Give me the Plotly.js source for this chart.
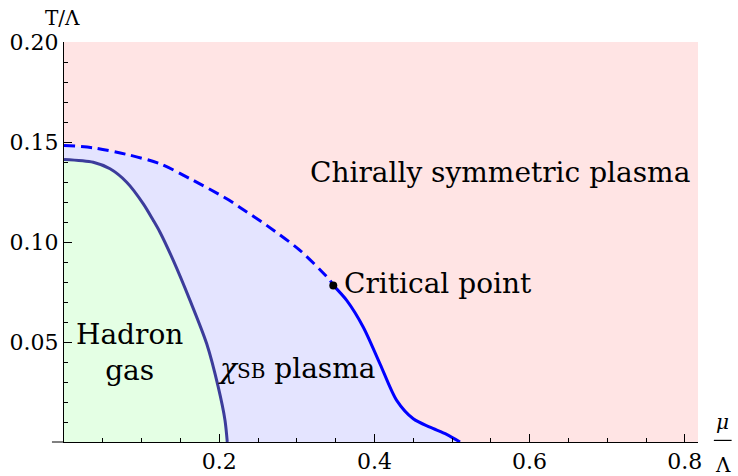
<!DOCTYPE html>
<html>
<head>
<meta charset="utf-8">
<script src="https://cdn.plot.ly/plotly-3.0.1.min.js"></script>
<style>html,body{margin:0;padding:0;background:#fff;}#chart{width:738px;height:476px;}</style>
</head>
<body>
<div id="chart"></div>
<script>
// Crossover (dashed) line from mu=0 to the critical point
const dashedMu = [0, 0.0377, 0.0808, 0.1237, 0.1666, 0.2097, 0.2268, 0.2612, 0.3041, 0.3428, 0.347];
const dashedT  = [0.1483, 0.1471, 0.1438, 0.1391, 0.1308, 0.1216, 0.1173, 0.1083, 0.0958, 0.0808, 0.0783];
// First-order line from critical point down to T=0
const firstMu = [0.347, 0.3643, 0.3857, 0.4072, 0.4287, 0.4501, 0.4716, 0.4931, 0.5103];
const firstT  = [0.0783, 0.0708, 0.0574, 0.0391, 0.0208, 0.0116, 0.0074, 0.0038, 0];
// Hadron gas boundary (dark curve)
const hadronMu = [0, 0.0377, 0.0593, 0.0808, 0.1022, 0.1151, 0.1237, 0.1408, 0.1624, 0.1839, 0.1988, 0.2075, 0.2104];
const hadronT  = [0.1413, 0.1399, 0.1366, 0.1299, 0.1191, 0.1108, 0.1049, 0.0908, 0.0708, 0.0491, 0.0274, 0.0108, 0];
// Critical point
const critMu = [0.347];
const critT  = [0.0783];
// Tick labels
const xTickVals = [0.2, 0.4, 0.6, 0.8];
const xTickText = ["0.2", "0.4", "0.6", "0.8"];
const yTickVals = [0.05, 0.10, 0.15, 0.20];
const yTickText = ["0.05", "0.10", "0.15", "0.20"];

const outerMu = dashedMu.concat(firstMu.slice(1));
const outerT  = dashedT.concat(firstT.slice(1));

const serif = "DejaVu Serif";

const traces = [
  {x: outerMu, y: outerT, mode: 'lines', fill: 'tozeroy', fillcolor: 'rgb(228,228,255)',
   line: {width: 0, shape: 'spline', smoothing: 0.8}, hoverinfo: 'skip', showlegend: false},
  {x: hadronMu, y: hadronT, mode: 'lines', fill: 'tozeroy', fillcolor: 'rgb(228,255,228)',
   line: {width: 0, shape: 'spline', smoothing: 0.8}, hoverinfo: 'skip', showlegend: false},
  {x: dashedMu, y: dashedT, mode: 'lines',
   line: {color: '#0000ff', width: 3, dash: '11px,6px', shape: 'spline', smoothing: 0.8}, showlegend: false},
  {x: firstMu, y: firstT, mode: 'lines',
   line: {color: '#0000ff', width: 3, shape: 'spline', smoothing: 0.8}, showlegend: false},
  {x: hadronMu, y: hadronT, mode: 'lines',
   line: {color: 'rgb(60,60,155)', width: 3, shape: 'spline', smoothing: 0.8}, showlegend: false},
  {x: critMu, y: critT, mode: 'markers', marker: {color: '#000', size: 8}, showlegend: false}
];

const layout = {
  width: 738, height: 476,
  margin: {l: 64, r: 40, t: 42, b: 34},
  paper_bgcolor: '#ffffff',
  plot_bgcolor: 'rgb(255,228,228)',
  font: {family: serif, size: 22, color: '#000'},
  xaxis: {
    range: [0, 0.817], showgrid: false, zeroline: false,
    showline: true, linecolor: '#000', linewidth: 1,
    ticks: 'inside', ticklen: 8, tickcolor: '#000', tickwidth: 1,
    tickmode: 'array', tickvals: xTickVals, ticktext: xTickText,
    tickfont: {family: serif, size: 22, color: '#000'}, ticklabelstandoff: 0,
    minor: {ticks: 'inside', ticklen: 4, tickcolor: '#000', tickwidth: 1, dtick: 0.05, tick0: 0, showgrid: false}
  },
  yaxis: {
    range: [0, 0.2], showgrid: false, zeroline: false,
    showline: true, linecolor: '#000', linewidth: 1,
    ticks: 'inside', ticklen: 8, tickcolor: '#000', tickwidth: 1,
    tickmode: 'array', tickvals: yTickVals, ticktext: yTickText,
    tickfont: {family: serif, size: 22, color: '#000'},
    minor: {ticks: 'inside', ticklen: 4, tickcolor: '#000', tickwidth: 1, dtick: 0.01, tick0: 0, showgrid: false}
  },
  shapes: [
    {type: 'line', xref: 'paper', yref: 'paper', x0: -0.019, x1: 0, y0: 0, y1: 0, line: {color: '#000', width: 1}},
    {type: 'line', xref: 'paper', yref: 'paper', x0: 1.025, x1: 1.053, y0: 0.004, y1: 0.004, line: {color: '#000', width: 1.2}}
  ],
  annotations: [
    {text: 'Chirally symmetric plasma', x: 0.562, y: 0.1348, xref: 'x', yref: 'y', showarrow: false,
     xanchor: 'center', yanchor: 'middle', font: {family: serif, size: 28}},
    {text: 'Critical point', x: 0.3585, y: 0.0795, xref: 'x', yref: 'y', showarrow: false,
     xanchor: 'left', yanchor: 'middle', font: {family: serif, size: 28}},
    {text: 'Hadron<br>gas', x: 0.085, y: 0.0448, xref: 'x', yref: 'y', showarrow: false,
     xanchor: 'center', yanchor: 'middle', font: {family: serif, size: 28}},
    {text: '<i>χ</i><span style="font-size:20px">SB</span> plasma', x: 0.30, y: 0.037, xref: 'x', yref: 'y', showarrow: false,
     xanchor: 'center', yanchor: 'middle', font: {family: serif, size: 28}},
    {text: 'T/Λ', x: -0.002, y: 1.061, xref: 'paper', yref: 'paper', showarrow: false,
     xanchor: 'center', yanchor: 'middle', font: {family: serif, size: 20}},
    {text: '<i>μ</i>', x: 1.038, y: 0.049, xref: 'paper', yref: 'paper', showarrow: false,
     xanchor: 'center', yanchor: 'middle', font: {family: serif, size: 20}},
    {text: 'Λ', x: 1.040, y: -0.058, xref: 'paper', yref: 'paper', showarrow: false,
     xanchor: 'center', yanchor: 'middle', font: {family: serif, size: 20}}
  ]
};

Plotly.newPlot('chart', traces, layout, {displayModeBar: false, staticPlot: true});
</script>
</body>
</html>
